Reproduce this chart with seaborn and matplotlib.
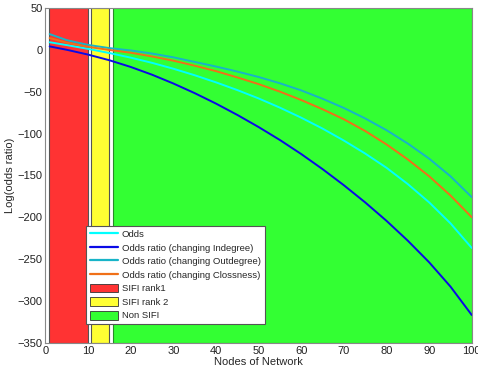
import numpy as np
import pandas as pd
import matplotlib
matplotlib.use("Agg")
import matplotlib.pyplot as plt
from matplotlib.patches import Patch
from matplotlib.lines import Line2D
import seaborn as sns

# ---- data ----
nodes = [1, 5, 10, 15, 20, 25, 30, 35, 40, 45, 50, 55, 60, 65, 70, 75, 80, 85, 90, 95, 100]
odds = [9, 5.6, 1.1, -3.9, -9.4, -15.6, -22.6, -30.4, -38.9, -48.1, -58.1, -69.1,
        -81.1, -94.1, -108.4, -123.9, -140.9, -160.4, -182.2, -207.2, -236.7]
odds_indegree = [4, 0, -5.75, -12.5, -20.5, -29.75, -40.25, -51.75, -64.25, -77.75, -92.25,
                 -107.75, -124.5, -142.5, -161.75, -182.25, -204.25, -228, -253.75, -282.75, -316.75]
odds_outdegree = [18.7, 11.5, 5.8, 2.0, -0.8, -4.5, -9, -14.5, -20, -26, -32.5, -40,
                  -48.5, -58.5, -69.5, -82, -96, -112, -130, -151, -176]
odds_closeness = [14, 8.5, 3.5, -0.2, -3.5, -8, -13, -19, -25.5, -33, -41, -50,
                  -60, -71, -83, -97, -113, -131, -151, -174, -200]
series_names = ["Odds", "Odds ratio (changing Indegree)",
                "Odds ratio (changing Outdegree)", "Odds ratio (changing Clossness)"]

region_names = ["SIFI rank1", "SIFI rank 2", "Non SIFI"]
region_start = [0.8, 10.7, 15.9]
region_end = [9.9, 14.8, 100]
region_bottom = -350
region_top = 50

x_ticks = list(range(0, 101, 10))
y_ticks = list(range(-350, 51, 50))

# ---- styling ----
line_colors = ["#00ffff", "#0a0ae6", "#18b4c8", "#f07018"]
region_colors = ["#ff3333", "#ffff33", "#33ff33"]
region_edges = ["#555555", "#555555", "#2a8a2a"]

sns.set_theme(style="white")
plt.rcParams["font.family"] = ["Liberation Sans", "DejaVu Sans"]

fig = plt.figure(figsize=(4.78, 3.76), dpi=100)
ax = fig.add_axes([0.095, 0.088, 0.892, 0.891])

# background regions as bars
ax.bar(region_start,
       [region_top - region_bottom] * len(region_start),
       width=np.array(region_end) - np.array(region_start),
       bottom=region_bottom, align="edge",
       color=region_colors, edgecolor=region_edges, linewidth=0.8, zorder=1)

df = pd.DataFrame({
    "node": nodes * 4,
    "value": odds + odds_indegree + odds_outdegree + odds_closeness,
    "series": sum([[n] * len(nodes) for n in series_names], []),
})
sns.lineplot(data=df, x="node", y="value", hue="series", hue_order=series_names,
             palette=line_colors, linewidth=1.4, ax=ax, legend=False, zorder=3)

ax.set_xlim(0, 100)
ax.set_ylim(-350, 50)
ax.set_xticks(x_ticks)
ax.set_yticks(y_ticks)
ax.tick_params(axis="both", labelsize=8, direction="in", length=3, colors="#222222",
               pad=2)
ax.set_xlabel("Nodes of Network", fontsize=8, labelpad=1)
ax.set_ylabel("Log(odds ratio)", fontsize=8, labelpad=2)
for s in ax.spines.values():
    s.set_color("#888888")
    s.set_linewidth(0.8)
    s.set_zorder(4)

handles = [Line2D([0], [0], color=c, lw=1.6) for c in line_colors]
handles += [Patch(facecolor=c, edgecolor="#333333", linewidth=0.6) for c in region_colors]
leg = ax.legend(handles, series_names + region_names, loc="upper left",
                bbox_to_anchor=(0.095, 0.35), fontsize=6.8, frameon=True,
                fancybox=False, framealpha=1, edgecolor="#555555",
                handlelength=3.0, handleheight=1.05, labelspacing=0.42,
                borderpad=0.4, handletextpad=0.4, borderaxespad=0)
leg.get_frame().set_linewidth(0.8)
leg.set_zorder(5)

fig.savefig("out.png", dpi=100)
